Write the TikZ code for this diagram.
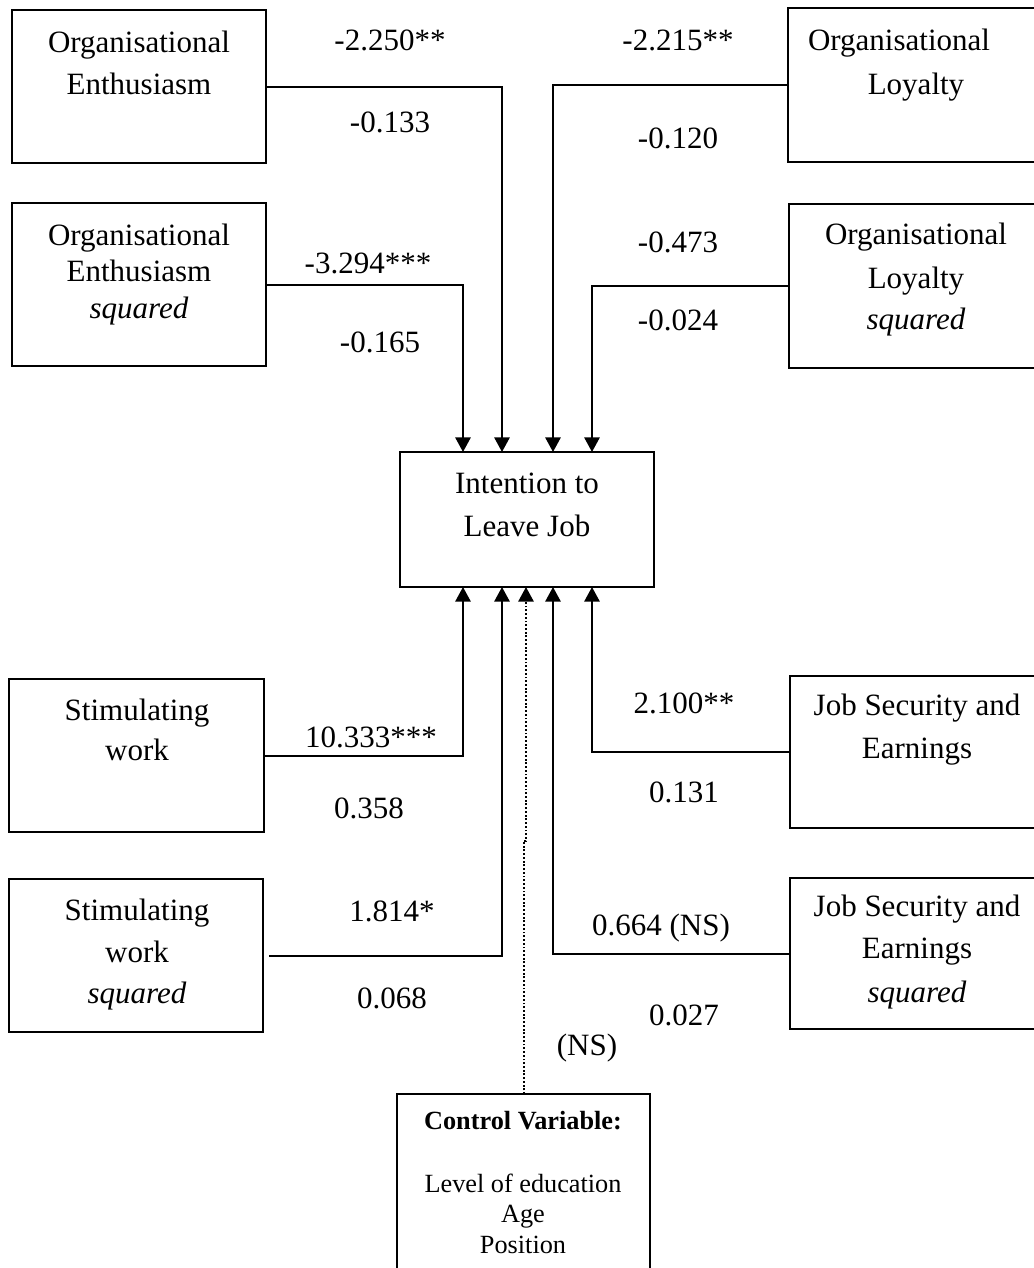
\documentclass[tikz,border=0pt]{standalone}
\usepackage{fontspec}
\setmainfont{Liberation Serif}
\usetikzlibrary{arrows.meta,calc,fit}
\begin{document}
\begin{tikzpicture}[x=0.75pt,y=-0.75pt,
  box/.style={draw, line width=1.5pt, inner sep=0pt, outer sep=0pt},
  txt/.style={font=\fontsize{23.25}{28}\selectfont, inner sep=0pt, anchor=base},
  itxt/.style={font=\fontsize{23.25}{28}\selectfont\itshape, inner sep=0pt, anchor=base},
  small/.style={font=\fontsize{19.7}{24}\selectfont, inner sep=0pt, anchor=base},
  conn/.style={line width=1.5pt, -{Triangle[length=11pt,width=11.5pt]}},
  dotconn/.style={line width=1.5pt, dash pattern=on 1.4pt off 1.4pt, -{Triangle[length=11pt,width=11.5pt]}}]
\useasboundingbox (0,0) rectangle (1033,1268);

% boxes
\node[box, fit={(12,10) (266,163)}] (oe) {};
\node[box, fit={(788,8) (1045,162)}] (ol) {};
\node[box, fit={(12,203) (266,366)}] (oes) {};
\node[box, fit={(789,204) (1045,368)}] (ols) {};
\node[box, fit={(400,452) (654,587)}] (int) {};
\node[box, fit={(9,679) (264,832)}] (sw) {};
\node[box, fit={(9,879) (263,1032)}] (sws) {};
\node[box, fit={(790,676) (1045,828)}] (jse) {};
\node[box, fit={(790,878) (1045,1029)}] (jses) {};
\node[box, fit={(397,1094) (650,1275)}] (ctrl) {};

% box texts
\node[txt] (oe1) at (139,52) {Organisational};
\node[txt] (oe2) at (139,94) {Enthusiasm};
\node[txt] (ol1) at (899,50) {Organisational};
\node[txt] (ol2) at (916,94) {Loyalty};
\node[txt] (oes1) at (139,245) {Organisational};
\node[txt] (oes2) at (139,281) {Enthusiasm};
\node[itxt] (oes3) at (139,318) {squared};
\node[txt] (ols1) at (916,244) {Organisational};
\node[txt] (ols2) at (916,288) {Loyalty};
\node[itxt] (ols3) at (916,329) {squared};
\node[txt] (int1) at (527,493) {Intention to};
\node[txt] (int2) at (527,536) {Leave Job};
\node[txt] (sw1) at (137,720) {Stimulating};
\node[txt] (sw2) at (137,760) {work};
\node[txt] (sws1) at (137,920) {Stimulating};
\node[txt] (sws2) at (137,962) {work};
\node[itxt] (sws3) at (137,1003) {squared};
\node[txt] (jse1) at (917,715) {Job Security and};
\node[txt] (jse2) at (917,758) {Earnings};
\node[txt] (jses1) at (917,916) {Job Security and};
\node[txt] (jses2) at (917,958) {Earnings};
\node[itxt] (jses3) at (917,1002) {squared};
\node[small, font=\fontsize{19.7}{24}\selectfont\bfseries] (c1) at (523,1129) {Control Variable:};
\node[small] (c2) at (523,1192) {Level of education};
\node[small] (c3) at (523,1222) {Age};
\node[small] (c4) at (523,1253) {Position};

% connectors
\draw[conn] (oe.east) -| ([xshift=76.5pt]int.north west);
\draw[conn] (oes.east) -| ([xshift=47.25pt]int.north west);
\draw[conn] (ol.west) -| ([xshift=114.75pt]int.north west);
\draw[conn] (ols.west) -| ([xshift=144pt]int.north west);
\draw[conn] (sw.east) -| ([xshift=47.25pt]int.south west);
\draw[conn] ([xshift=4.5pt]sws.east) -| ([xshift=76.5pt]int.south west);
\draw[conn] (jse.west) -| ([xshift=144pt]int.south west);
\draw[conn] (jses.west) -| ([xshift=114.75pt]int.south west);
\coordinate (jog) at (526,841);
\draw[dotconn] (ctrl.north) -- (ctrl.north |- jog) -- (jog) -- (jog |- int.south);

% labels
\node[txt] (l1) at (390,50) {-2.250**};
\node[txt] (l2) at (390,132) {-0.133};
\node[txt] (l3) at (368,273) {-3.294***};
\node[txt] (l4) at (380,352) {-0.165};
\node[txt] (l5) at (678,50) {-2.215**};
\node[txt] (l6) at (678,148) {-0.120};
\node[txt] (l7) at (678,252) {-0.473};
\node[txt] (l8) at (678,330) {-0.024};
\node[txt] (l9) at (371,747) {10.333***};
\node[txt] (l10) at (369,818) {0.358};
\node[txt] (l11) at (392,921) {1.814*};
\node[txt] (l12) at (392,1008) {0.068};
\node[txt] (l13) at (684,713) {2.100**};
\node[txt] (l14) at (684,802) {0.131};
\node[txt] (l15) at (661,935) {0.664 (NS)};
\node[txt] (l16) at (684,1025) {0.027};
\node[txt] (l17) at (587,1055) {(NS)};
\end{tikzpicture}
\end{document}
